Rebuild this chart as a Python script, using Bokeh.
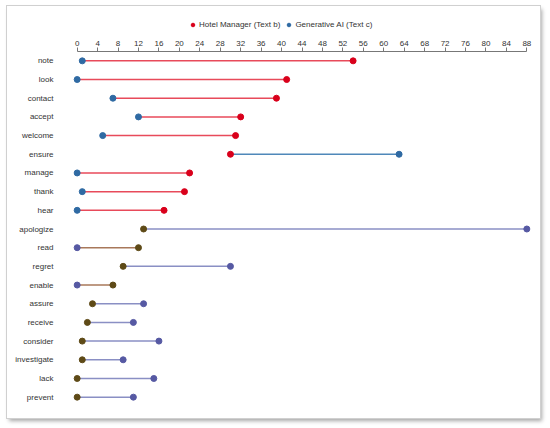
from bokeh.plotting import figure
from bokeh.layouts import column
from bokeh.models import (Range1d, FixedTicker, Legend, LegendItem, ColumnDataSource,
                          InlineStyleSheet)
from bokeh.embed import file_html
from bokeh.resources import INLINE

# word frequencies, top row first
words = ["note", "look", "contact", "accept", "welcome", "ensure", "manage", "thank",
         "hear", "apologize", "read", "regret", "enable", "assure", "receive",
         "consider", "investigate", "lack", "prevent"]
hotel = [54, 41, 39, 32, 31, 30, 22, 21, 17, 13, 12, 9, 7, 3, 2, 1, 1, 0, 0]
gen_ai = [1, 0, 7, 12, 5, 63, 0, 1, 0, 88, 0, 30, 0, 13, 11, 16, 9, 15, 11]
x_ticks = list(range(0, 89, 4))
series = ["Hotel Manager (Text b)", "Generative AI (Text c)"]

RED, BLUE = "#d9001b", "#2f6aa3"
RED_LINE, BLUE_LINE = "#e84a5a", "#4f88b9"
# the lower rows of the picture come out in muted tones
BROWN, PURPLE = "#5e4a17", "#5659a3"
BROWN_LINE, PURPLE_LINE = "#a8785a", "#8a8fc4"
FONT = "Liberation Sans"

hotel_col, ai_col, seg_col = [], [], []
for i, (h, a) in enumerate(zip(hotel, gen_ai)):
    lower = i >= words.index("apologize")
    hotel_col.append(BROWN if lower else RED)
    ai_col.append(PURPLE if lower else BLUE)
    if h >= a:
        seg_col.append(BROWN_LINE if lower else RED_LINE)
    else:
        seg_col.append(PURPLE_LINE if lower else BLUE_LINE)

src = ColumnDataSource(dict(word=words, hotel=hotel, ai=gen_ai,
                            lo=[min(h, a) for h, a in zip(hotel, gen_ai)],
                            hi=[max(h, a) for h, a in zip(hotel, gen_ai)],
                            hc=hotel_col, ac=ai_col, sc=seg_col))

# legend strip on top (swatch renderers hold no drawable points)
lg = figure(width=533, height=28, x_range=(0, 1), y_range=(0, 1),
            x_axis_type=None, y_axis_type=None, output_backend="svg",
            toolbar_location=None, min_border=0)
lg.outline_line_color = None
lg.xgrid.visible = False
lg.ygrid.visible = False
nan = [float("nan")]
d_hotel = lg.scatter(x=nan, y=nan, size=9, color=RED)
d_ai = lg.scatter(x=nan, y=nan, size=9, color=BLUE)
# the column lines this frame up with the chart's frame, so x counts from there
legend = Legend(items=[LegendItem(label=series[0], renderers=[d_hotel], index=0),
                       LegendItem(label=series[1], renderers=[d_ai], index=0)],
                orientation="horizontal", location=(119, 5), border_line_color=None,
                background_fill_alpha=0, label_text_font=FONT,
                label_text_font_size="8px", label_text_color="#333333",
                glyph_width=9, glyph_height=9, label_standoff=2, spacing=4,
                padding=2, margin=0, label_height=10)
lg.add_layout(legend)

p = figure(width=533, height=384, y_range=words[::-1], x_range=Range1d(-1.5, 89.5),
           x_axis_location="above", output_backend="svg", toolbar_location=None,
           min_border_left=62, min_border_right=6, min_border_top=17, min_border_bottom=12)
p.outline_line_color = None
p.xgrid.visible = False
p.ygrid.visible = False

p.segment(x0="lo", y0="word", x1="hi", y1="word", source=src, line_color="sc", line_width=1.5)
p.scatter(x="hotel", y="word", source=src, size=6, fill_color="hc", line_color="hc")
p.scatter(x="ai", y="word", source=src, size=6, fill_color="ac", line_color="ac")

p.xaxis.ticker = FixedTicker(ticks=x_ticks)
p.xaxis.bounds = (0, 88)
p.xaxis.axis_line_color = "#777777"
p.xaxis.major_tick_line_color = "#777777"
p.xaxis.major_tick_out = 4
p.xaxis.major_tick_in = 0
p.xaxis.minor_tick_line_color = None
p.xaxis.major_label_text_font = FONT
p.xaxis.major_label_text_font_size = "8px"
p.xaxis.major_label_text_color = "#333333"
p.xaxis.major_label_standoff = 2

p.yaxis.axis_line_color = None
p.yaxis.major_tick_line_color = None
p.yaxis.minor_tick_line_color = None
p.yaxis.major_label_standoff = 10
p.yaxis.major_label_text_font = FONT
p.yaxis.major_label_text_font_size = "8px"
p.yaxis.major_label_text_color = "#333333"

page = column(lg, p, spacing=0)
page.stylesheets = [InlineStyleSheet(css=":host { margin: 6px 0 0 7px; "
                                         "outline: 1px solid #d0d0d0; "
                                         "box-shadow: 2px 3px 4px rgba(0,0,0,0.35); }")]

open("out.html", "w").write(file_html(page, INLINE))
